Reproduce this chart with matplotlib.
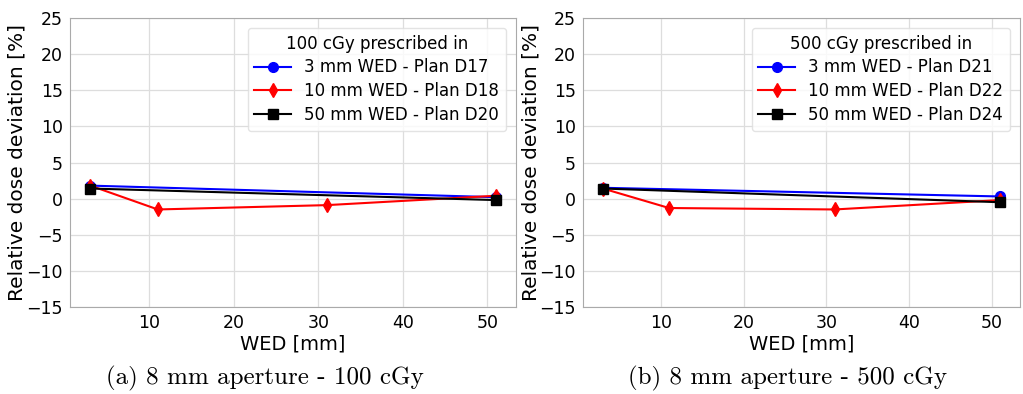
import matplotlib
matplotlib.use('Agg')
import matplotlib.pyplot as plt

plt.rcParams['font.family'] = 'DejaVu Sans'

# data
wed_short = [3, 51]
wed_full = [3, 11, 31, 51]

# (a) 100 cGy
a_3mm = [1.8, 0.2]
a_10mm = [1.8, -1.5, -0.9, 0.4]
a_50mm = [1.4, -0.2]
a_labels = ['3 mm WED - Plan D17', '10 mm WED - Plan D18', '50 mm WED - Plan D20']

# (b) 500 cGy
b_3mm = [1.5, 0.3]
b_10mm = [1.4, -1.3, -1.5, -0.2]
b_50mm = [1.4, -0.5]
b_labels = ['3 mm WED - Plan D21', '10 mm WED - Plan D22', '50 mm WED - Plan D24']

yticks = [-15, -10, -5, 0, 5, 10, 15, 20, 25]
xticks = [10, 20, 30, 40, 50]

W, H = 1023, 394
fig = plt.figure(figsize=(W / 100, H / 100), dpi=100)
ax1 = fig.add_axes([70 / W, 87 / H, 446 / W, 289 / H])
ax2 = fig.add_axes([583 / W, 87 / H, 437 / W, 289 / H])

panels = [
    (ax1, a_3mm, a_10mm, a_50mm, a_labels, '100 cGy prescribed in', '(a) 8 mm aperture - 100 cGy', 265, -0.119),
    (ax2, b_3mm, b_10mm, b_50mm, b_labels, '500 cGy prescribed in', '(b) 8 mm aperture - 500 cGy', 787, -0.119),
]

for ax, s3, s10, s50, labels, title, caption, cx, lx in panels:
    ax.plot(wed_short, s3, color='blue', marker='o', lw=1.5, ms=7, label=labels[0])
    ax.plot(wed_full, s10, color='red', marker='d', lw=1.5, ms=7, label=labels[1])
    ax.plot(wed_short, s50, color='black', marker='s', lw=1.5, ms=7, label=labels[2])
    ax.set_ylim(-15, 25)
    ax.set_yticks(yticks)
    ax.set_xticks(xticks)
    ax.grid(True, color='#dddddd', lw=0.9)
    ax.set_axisbelow(True)
    for sp in ax.spines.values():
        sp.set_color('#aaaaaa')
    ax.tick_params(length=0, labelsize=12.5, pad=5)
    ax.set_xlabel('WED [mm]', fontsize=14, labelpad=2)
    ax.set_ylabel('Relative dose deviation [%]', fontsize=14.5, va='center')
    ax.yaxis.set_label_coords(lx, 0.5)
    ax.legend(title=title, loc='upper right', fontsize=12, title_fontsize=12,
              framealpha=0.8, edgecolor='#dddddd', borderaxespad=0.6,
              labelspacing=0.35, handlelength=2.2)
    fig.text(cx / W, 16 / H, caption, ha='center', va='center',
             fontsize=18, family='cmr10')

fig.savefig('out.png', dpi=100)
